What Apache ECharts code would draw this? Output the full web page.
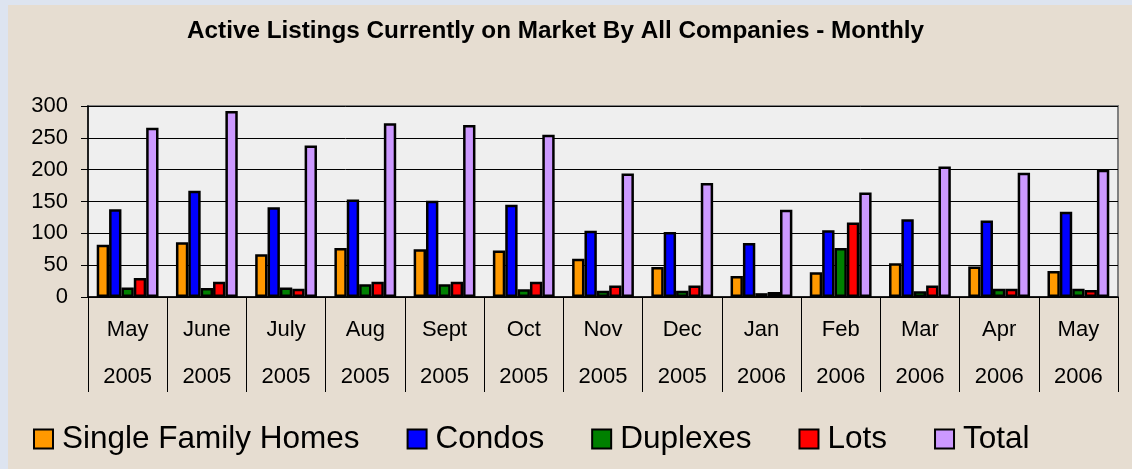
<!DOCTYPE html>
<html>
<head>
<meta charset="utf-8">
<script src="https://cdn.jsdelivr.net/npm/echarts@6/dist/echarts.min.js"></script>
<style>
  html, body { margin: 0; padding: 0; background: #dde4f0; }
  .panel {
    position: absolute; left: 8px; top: 5px; width: 1124px; height: 464px;
    background: #e6ddd1;
  }
  #main { position: absolute; left: 0; top: 0; width: 1132px; height: 469px; }
</style>
</head>
<body>
<div class="panel"></div>
<div id="main"></div>
<script>
// months and years shown on the category axis
const months = ['May', 'June', 'July', 'Aug', 'Sept', 'Oct', 'Nov', 'Dec', 'Jan', 'Feb', 'Mar', 'Apr', 'May']
const years = ['2005', '2005', '2005', '2005', '2005', '2005', '2005', '2005', '2006', '2006', '2006', '2006', '2006']

// listing counts
const singleFamily = [82, 86, 67, 77, 75, 73, 60, 47, 33, 39, 53, 48, 41]
const condos = [138, 167, 141, 153, 151, 145, 104, 102, 85, 105, 122, 120, 134]
const duplexes = [15, 14, 15, 20, 20, 12, 10, 10, 6, 77, 9, 13, 13]
const lots = [30, 24, 13, 24, 24, 24, 18, 18, 8, 117, 18, 13, 11]
const total = [266, 292, 238, 273, 270, 255, 194, 179, 137, 164, 205, 195, 200]

const yTicks = [0, 50, 100, 150, 200, 250, 300]

const categories = months.map((m, i) => m + '\n' + years[i])

const font = 'Liberation Sans, Arial, sans-serif'

function barSeries(name, color, data) {
  return {
    name: name,
    type: 'bar',
    barGap: '0%',
    barCategoryGap: '22%',
    itemStyle: {
      color: color,
      borderColor: '#000',
      borderWidth: 2.5
    },
    data: data
  }
}

const chart = echarts.init(document.getElementById('main'))
const option = {
  animation: false,
  title: {
    text: 'Active Listings Currently on Market By All Companies - Monthly',
    left: 182,
    top: 14,
    textStyle: {
      fontFamily: font,
      fontSize: 24.3,
      fontWeight: 'bold',
      color: '#000'
    }
  },
  legend: {
    left: 28,
    top: 418,
    itemWidth: 19,
    itemHeight: 19,
    itemGap: 47,
    icon: 'rect',
    textStyle: {
      fontFamily: font,
      fontSize: 31.5,
      color: '#000',
      padding: [0, 0, 0, 4]
    },
    data: ['Single Family Homes', 'Condos', 'Duplexes', 'Lots', 'Total']
  },
  grid: {
    left: 88,
    right: 14,
    top: 106,
    bottom: 172,
    show: true,
    backgroundColor: '#efefef',
    borderColor: '#808080',
    borderWidth: 2
  },
  xAxis: {
    type: 'category',
    data: categories,
    axisLine: { lineStyle: { color: '#000', width: 1.5 } },
    axisTick: {
      show: true,
      alignWithLabel: false,
      length: 95,
      lineStyle: { color: '#000', width: 1 }
    },
    axisLabel: {
      interval: 0,
      margin: 9,
      fontFamily: font,
      fontSize: 22,
      lineHeight: 47,
      color: '#000'
    }
  },
  yAxis: {
    type: 'value',
    min: yTicks[0],
    max: yTicks[yTicks.length - 1],
    interval: 50,
    axisLine: { show: true, lineStyle: { color: '#000', width: 1.5 } },
    axisTick: { show: true, length: 7, lineStyle: { color: '#000' } },
    axisLabel: {
      margin: 20,
      fontFamily: font,
      fontSize: 22,
      color: '#000'
    },
    splitLine: { show: true, lineStyle: { color: '#000', width: 1 } }
  },
  series: [
    barSeries('Single Family Homes', '#FF9900', singleFamily),
    barSeries('Condos', '#0000FF', condos),
    barSeries('Duplexes', '#008000', duplexes),
    barSeries('Lots', '#FF0000', lots),
    barSeries('Total', '#CC99FF', total)
  ]
}
chart.setOption(option)
</script>
</body>
</html>
